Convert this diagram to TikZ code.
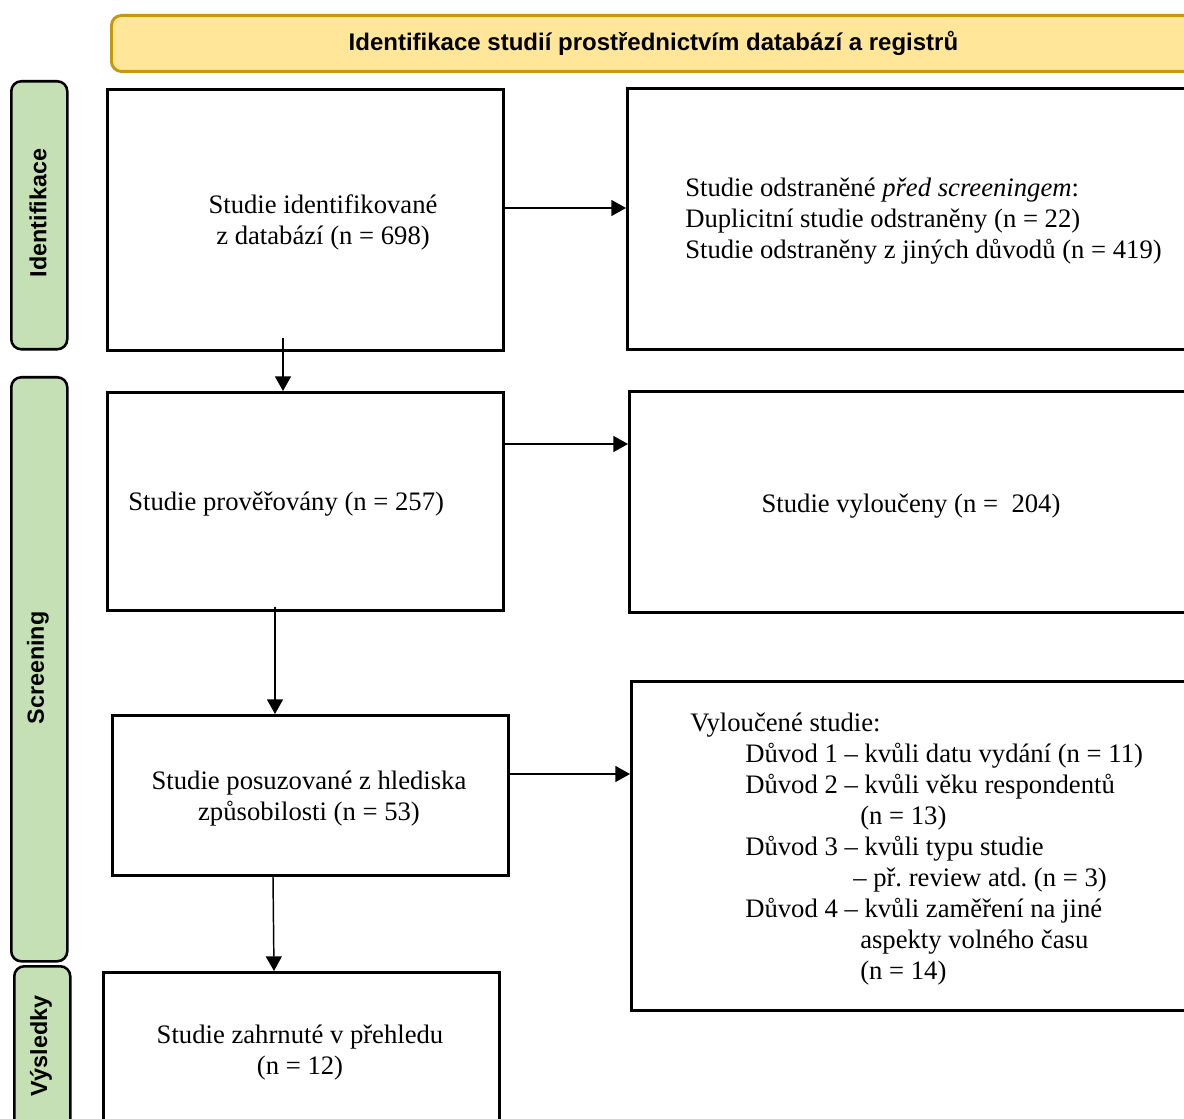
\documentclass[tikz,border=0pt]{standalone}
\usepackage{fontspec}
\setmainfont{Liberation Serif}
\setsansfont{Liberation Sans}
\frenchspacing
\usetikzlibrary{arrows.meta,calc}
\definecolor{hdrfill}{HTML}{FFE699}
\definecolor{hdrline}{HTML}{C9960C}
\definecolor{sidefill}{HTML}{C5E0B4}
\begin{document}
\begin{tikzpicture}[x=0.75pt,y=-0.75pt,
  box/.style={draw=black,line width=2pt,anchor=north west,inner sep=0pt},
  side/.style={draw=black,fill=sidefill,line width=1.9pt,rounded corners=7.5pt,anchor=north west,inner sep=0pt,minimum width=42pt},
  sidetxt/.style={font=\sffamily\bfseries\fontsize{17.5}{20}\selectfont,rotate=90,inner sep=0pt},
  txt/.style={font=\fontsize{20}{23.25}\selectfont,inner sep=0pt,align=center},
  ltxt/.style={font=\fontsize{20}{23.25}\selectfont,inner sep=0pt,align=left,anchor=west},
  arr/.style={-{Triangle[width=12pt,length=11pt]},line width=1.1pt}]
\useasboundingbox (0,0) rectangle (1184,1119);
\clip (0,0) rectangle (1184,1119);
\fill[white] (0,0) rectangle (1184,1119);

% header
\node[draw=hdrline,fill=hdrfill,line width=2.2pt,rounded corners=7.5pt,anchor=north west,inner sep=0pt,
      minimum width=813pt,minimum height=42pt,font=\sffamily\bfseries\fontsize{18}{21}\selectfont]
      (hdr) at (110,14) {Identifikace studií prostřednictvím databází a registrů};

% side labels
\node[side,minimum height=201pt] (sIdent) at (10,80) {};
\node[side,minimum height=438pt] (sScreen) at (10,376) {};
\node[side,minimum height=150pt] (sRes) at (13,965) {};
\node[sidetxt] (tIdent) at (38,213) {Identifikace};
\node[sidetxt] (tScreen) at (38,668) {Screening};
\node[sidetxt] (tRes) at (41,1046) {Výsledky};

% boxes
\node[box,minimum width=297pt,minimum height=195.75pt] (b1) at (106,88) {};
\node[box,minimum width=468pt,minimum height=195.75pt] (b2) at (626,87) {};
\node[box,minimum width=297pt,minimum height=163.5pt] (b3) at (106,391) {};
\node[box,minimum width=465pt,minimum height=165.75pt] (b4) at (628,390) {};
\node[box,minimum width=297pt,minimum height=120pt] (b5) at (111,714) {};
\node[box,minimum width=465pt,minimum height=246.75pt] (b6) at (630,680) {};
\node[box,minimum width=297pt,minimum height=150pt] (b7) at (102,971) {};

% texts
\node[txt] (t1) at (323,222.5) {Studie identifikované\\z databází (n = 698)};
\node[ltxt] (t2) at (685,221) {Studie odstraněné \textit{před screeningem}:\\Duplicitní studie odstraněny (n = 22)\\Studie odstraněny z jiných důvodů (n = 419)};
\node[ltxt] (t3) at (128,504) {Studie prověřovány (n = 257)};
\node[txt] (t4) at (911,506) {Studie vyloučeny (n =\ \ 204)};
\node[txt] (t5) at (309,798.5) {Studie posuzované z hlediska\\způsobilosti (n = 53)};
\node[ltxt] (t6) at (690,849) {Vyloučené studie:\\
\hspace*{41.25pt}Důvod 1 – kvůli datu vydání (n = 11)\\
\hspace*{41.25pt}Důvod 2 – kvůli věku respondentů\\
\hspace*{127.5pt}(n = 13)\\
\hspace*{41.25pt}Důvod 3 – kvůli typu studie\\
\hspace*{122.25pt}– př.\ review atd.\ (n = 3)\\
\hspace*{41.25pt}Důvod 4 – kvůli zaměření na jiné\\
\hspace*{127.5pt}aspekty volného času\\
\hspace*{127.5pt}(n = 14)};
\node[txt] (t7) at (300,1052.5) {Studie zahrnuté v přehledu\\(n = 12)};

% arrows
\draw[arr] ($(b1.north east)+(0,120)$) -- ($(b2.north west)+(0,121)$);
\draw[arr] ($(b3.north east)+(0,53)$) -- ($(b4.north west)+(0,54)$);
\draw[arr] ($(b5.north east)+(0,60)$) -- ($(b6.north west)+(0,94)$);
\draw[arr] ($(b1.south west)+(177,-14)$) -- ($(b3.north west)+(177,0)$);
\draw[arr] ($(b3.south west)+(169,-5)$) -- ($(b5.north west)+(164,0)$);
\draw[arr] ($(b5.south west)+(162,0)$) -- ($(b7.north west)+(172,0)$);
\end{tikzpicture}
\end{document}
